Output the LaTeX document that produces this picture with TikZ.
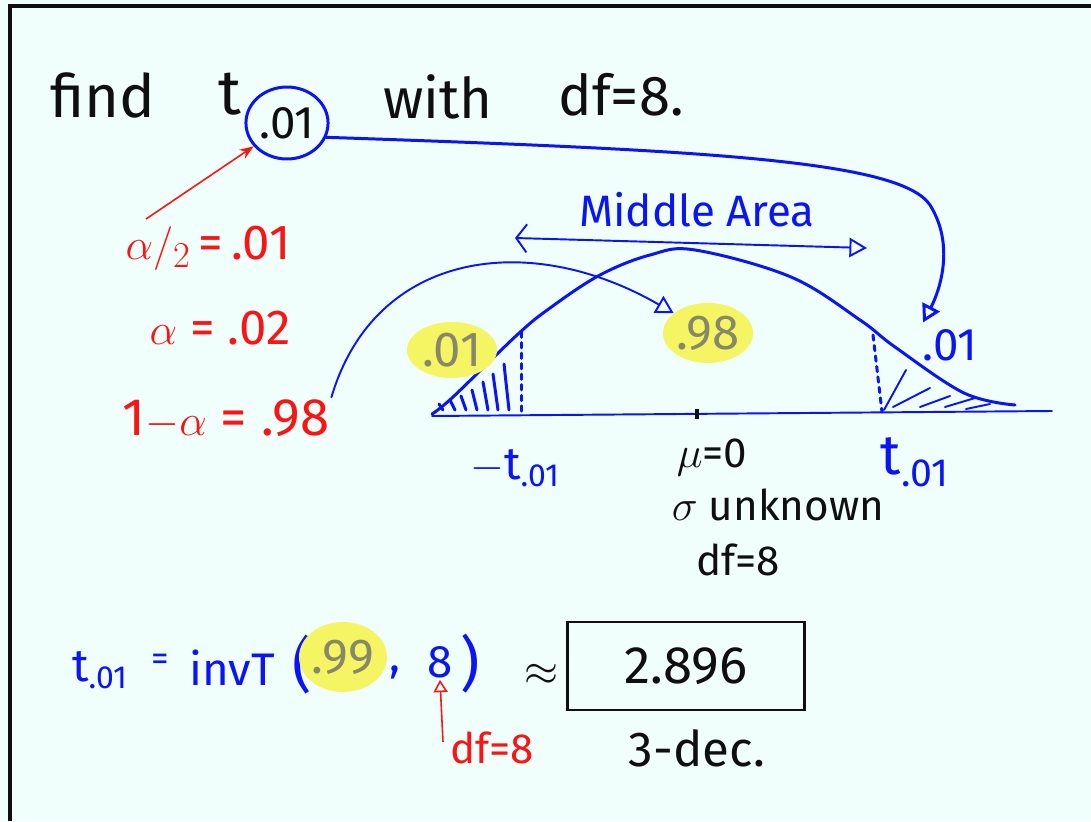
\documentclass[tikz,border=0pt]{standalone}
\usepackage{fontspec}
\setmainfont{Fira Sans}
\definecolor{penblue}{RGB}{10, 20, 245}
\definecolor{penred}{RGB}{250, 20, 20}
\definecolor{penblack}{RGB}{15, 15, 15}
\definecolor{marker}{RGB}{245, 245, 100}
\definecolor{markertext}{RGB}{135, 135, 105}
\definecolor{paper}{RGB}{240, 254, 252}
\usetikzlibrary{shapes.geometric, arrows.meta, positioning, calc}
\tikzset{
    blk/.style={inner sep=1pt, text=penblack, font=\fontsize{#1pt}{#1pt}\selectfont},
    blu/.style={inner sep=1pt, text=penblue, font=\fontsize{#1pt}{#1pt}\selectfont},
    rd/.style={inner sep=1pt, text=penred, font=\fontsize{#1pt}{#1pt}\selectfont},
    blk/.default=26, blu/.default=26, rd/.default=28,
    hilite/.style={
        ellipse, fill=marker, text=markertext, inner sep=0pt,
        font=\fontsize{28pt}{28pt}\selectfont
    },
    penline/.style={line width=1.7pt, color=penblue, line cap=round, line join=round},
    thinline/.style={line width=1.1pt, color=penblue, line cap=round, line join=round},
    openarrow/.style={-{Triangle[open, length=10pt, width=11pt]}},
    redarrow/.style={-{Stealth[length=8pt, width=6pt]}, line width=0.9pt, color=penred}
}
\begin{document}
\begin{tikzpicture}[x=0.02cm, y=-0.02cm]
    % paper and frame
    \fill[paper] (0,0) rectangle (1091,821);
    \path[use as bounding box] (0,0) rectangle (1091,821);
    \draw[penblack, line width=2.5pt] (10,821) |- (1091,6);

    % Title
    \node[blk=34] (find) at (103,95) {find};
    \node[blk=36] (tt) at (230,94) {t};
    \node[ellipse, draw=penblue, line width=1.7pt, blk=26, minimum width=1.6cm, minimum height=1.44cm] (circ) at (287,123) {.01};
    \node[blk=32] (with) at (438,97) {with};
    \node[blk=32] (dfeq) at (621,95) {df=8.};

    % Red working
    \node[rd] (ahalf) at (208,248) {$\alpha/_{2}$\,=\,.01};
    \node[rd] (alpha) at (220,328) {$\alpha$ = .02};
    \node[rd=30] (onemalpha) at (226,419) {1$-\alpha$ = .98};
    \coordinate (redstart) at (146,219);
    \draw[redarrow] (redstart) -- (circ.215);

    % Middle Area arrow
    \node[blu=25] (midtxt) at (697,210) {Middle Area};
    \coordinate (midL) at (515,238);
    \coordinate (midR) at (867,248);
    \draw[thinline, {Straight Barb[length=6pt, width=16pt]}-{Triangle[open, length=10pt, width=11pt]}] (midL) -- (midR);

    % t curve and axis
    \draw[penline] plot[smooth, tension=0.6] coordinates {(432,414) (453,397) (517,335) (550,308) (600,275) (650,255) (695,250) (791,277) (860,320) (895,347) (964,393) (1015,405)};
    \draw[thinline] (432,416) -- (1052,411);
    \draw[penblack, line width=2.4pt] (697,409) -- (697,419);

    % Shaded tails
    \draw[penline, dashed] (521,332) -- (521,415);
    \foreach \xa/\xb/\yb in {443/439/404, 455/450/400, 466/461/396, 477/472/390, 488/483/382, 498/493/374, 509/504/364}
        \draw[penline] (\xa,410) -- (\xb,\yb);
    \draw[penline, dashed] (873,335) -- (882,412);
    \foreach \xa/\ya/\xb/\yb in {884/410/906/370, 893/407/930/388, 920/407/950/396, 945/407/975/398, 966/409/990/404}
        \draw[thinline] (\xa,\ya) -- (\xb,\yb);

    % Highlighted areas
    \node[hilite, minimum width=1.8cm, minimum height=1.12cm] (hl01) at (452,350) {.01};
    \node[hilite, minimum width=1.8cm, minimum height=1.2cm] (hl98) at (708,333) {.98};
    \node[blu] (rtail) at (950,345) {.01};

    % Curved arrows
    \draw[thinline, openarrow] (onemalpha.north east) .. controls (375,250) and (530,230) .. (hl98.150);
    \draw[penline, openarrow, shorten >=3pt] (circ.-20) .. controls (700,150) and (900,160) .. (930,205) .. controls (955,245) and (940,290) .. (rtail.north west);

    % Axis labels
    \node[blu] (negt) at (515,468) {$-$t\textsubscript{.01}};
    \node[blk=24] (mu) at (712,457) {$\mu$=0};
    \node[blu=32] (tpos) at (915,462) {t\textsubscript{.01}};
    \node[blk=24] (sigma) at (778,505) {$\sigma$ unknown};
    \node[blk=24] (dfblk) at (738,560) {df=8};

    % Calculator line
    \node[blu] (tb) at (100,670) {t\textsubscript{.01}};
    \node[blu=20] (eqs) at (160,662) {=};
    \node[blu] (invt) at (232,668) {invT};
    \node[blu=34] (lparen) at (302,665) {(};
    \node[hilite, minimum width=1.48cm, minimum height=1.4cm] (hl99) at (343,657) {.99};
    \node[blu] (comma) at (395,672) {,};
    \node[blu] (eight) at (440,662) {8};
    \node[blu=34] (rparen) at (470,664) {)};
    \node[blk=28] (approx) at (541,675) {$\approx$};
    \node[blk=30, draw=penblack, line width=1.6pt, minimum width=4.74cm, minimum height=1.76cm] (ans) at (686,666) {2.896};
    \node[blk=28] (dec) at (697,748) {3-dec.};
    \node[rd=24] (dfred) at (492,748) {df=8};
    \coordinate (dffoot) at (443,742);
    \draw[redarrow, -{Triangle[open, length=7pt, width=8pt]}] (dffoot) -- (eight.south);
\end{tikzpicture}
\end{document}
